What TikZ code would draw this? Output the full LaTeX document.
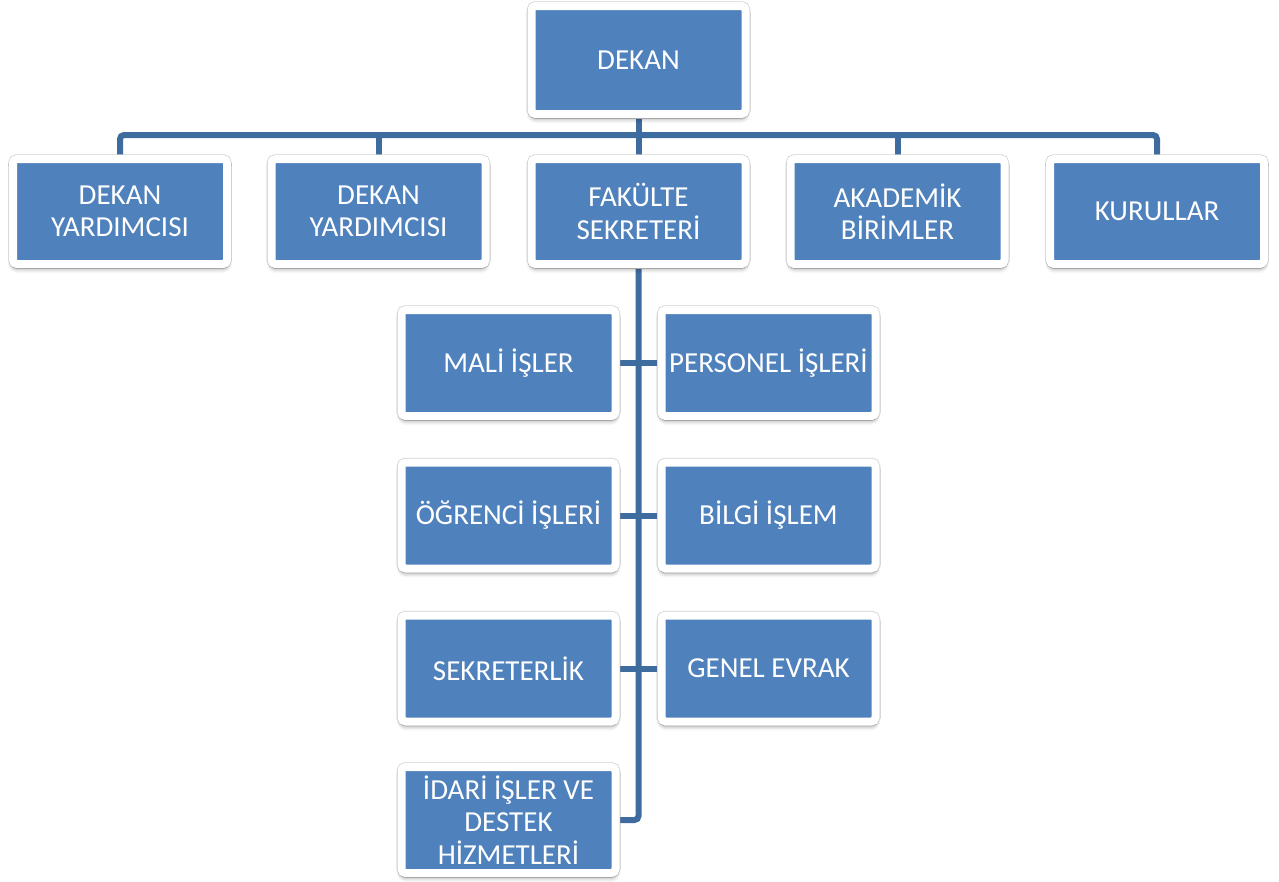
\documentclass[tikz,border=0pt]{standalone}
\usepackage{fontspec}
\setmainfont{Carlito}
\usetikzlibrary{shadows.blur,backgrounds}
\definecolor{boxblue}{HTML}{4F81BD}
\definecolor{linkblue}{HTML}{3F6C9F}
\begin{document}
\begin{tikzpicture}[x=1pt,y=-1pt,
  orgbox/.style={rectangle, rounded corners=4pt, fill=boxblue, draw=white, line width=8pt,
    minimum width=214pt, minimum height=106pt, inner sep=0pt, outer sep=0pt,
    align=center, text=white, font=\fontsize{29}{32.5}\selectfont,
    preaction={draw=black!18, line width=9.5pt},
    blur shadow={shadow xshift=0pt, shadow yshift=-4pt, shadow blur radius=5pt, shadow opacity=50}},
  link/.style={draw=linkblue, line width=6pt, rounded corners=4pt}]
\useasboundingbox (0,0) rectangle (1279,881);

\node[orgbox, minimum height=108pt] (dekan) at (638.5,60) {DEKAN};

\node[orgbox, minimum height=105pt] (dy1) at (120,211.5) {DEKAN\\YARDIMCISI};
\node[orgbox, minimum height=105pt] (dy2) at (378.5,211.5) {DEKAN\\YARDIMCISI};
\node[orgbox, minimum height=105pt] (fs) at (638.5,211.5) {FAKÜLTE\\SEKRETERİ};
\node[orgbox, minimum height=105pt] (ab) at (897.5,211.5) {AKADEMİK\\BİRİMLER};
\node[orgbox, minimum height=105pt] (kur) at (1157,211.5) {KURULLAR};

\node[orgbox] (mali) at (508.5,363) {MALİ İŞLER};
\node[orgbox] (pers) at (768.5,363) {PERSONEL İŞLERİ};
\node[orgbox] (ogr) at (508.5,515.5) {ÖĞRENCİ İŞLERİ};
\node[orgbox] (bilgi) at (768.5,515.5) {BİLGİ İŞLEM};
\node[orgbox] (sek) at (508.5,668.5) {SEKRETERLİK};
\node[orgbox] (genel) at (768.5,668.5) {GENEL EVRAK};
\node[orgbox] (idari) at (508.5,820) {İDARİ İŞLER VE\\DESTEK\\HİZMETLERİ};

\begin{scope}[on background layer]
  \coordinate (bus) at (638,135);
  \draw[link] (dekan.south) -- (dekan.south |- bus);
  \draw[link] (dy1.north) -- (dy1.north |- bus) -- (kur.north |- bus) -- (kur.north);
  \draw[link] (dy2.north) -- (dy2.north |- bus);
  \draw[link] (fs.north) -- (fs.north |- bus);
  \draw[link] (ab.north) -- (ab.north |- bus);
  \draw[link] (fs.south) -- (fs.south |- idari.east) -- (idari.east);
  \draw[link] (mali.east) -- (pers.west);
  \draw[link] (ogr.east) -- (bilgi.west);
  \draw[link] (sek.east) -- (genel.west);
\end{scope}
\end{tikzpicture}
\end{document}
